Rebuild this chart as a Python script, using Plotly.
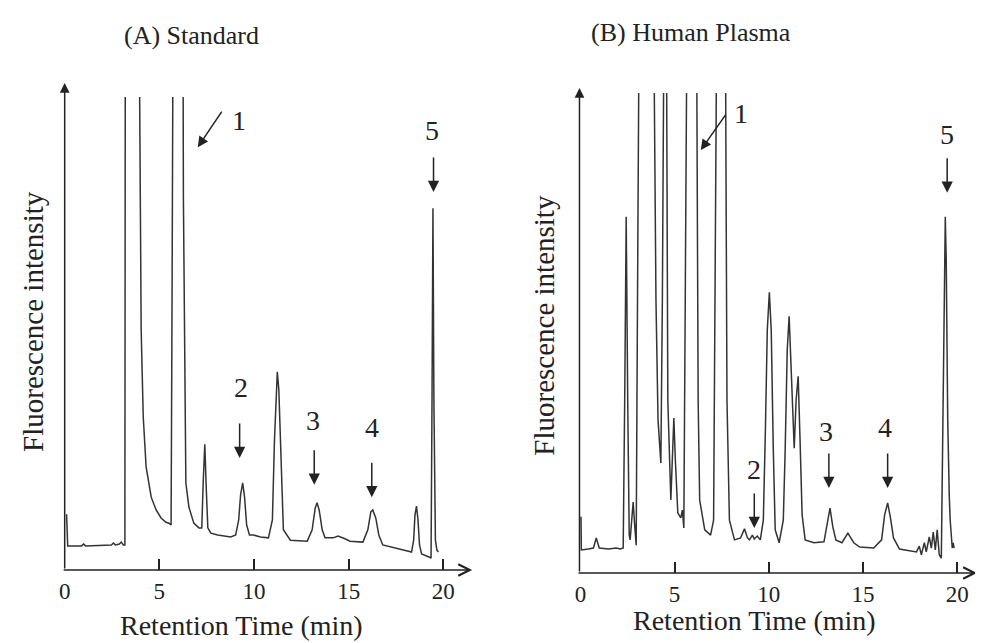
import plotly.graph_objects as go
from plotly.subplots import make_subplots

"""
HPLC chromatograms: (A) standard mixture, (B) human plasma
"""

# retention time (min) and fluorescence intensity (arbitrary units, 100 = top of frame)
std_time = [0.10, 0.16, 0.89, 1.00, 1.10, 2.47, 2.57, 2.68, 2.89, 2.99, 3.10, 3.18,
            3.20, 3.57, 3.94, 4.04, 4.15, 4.30, 4.57, 4.83, 5.09, 5.35, 5.51, 5.62,
            5.67, 5.72, 6.00, 6.25, 6.27, 6.35, 6.40, 6.56, 6.82, 7.09, 7.24, 7.32,
            7.40, 7.48, 7.56, 7.72, 8.08, 8.77, 9.03, 9.19, 9.29, 9.40, 9.50, 9.61,
            9.76, 9.97, 10.34, 10.76, 10.97, 11.08, 11.18, 11.23, 11.31, 11.44, 11.55,
            11.92, 12.81, 13.07, 13.23, 13.33, 13.44, 13.60, 13.75, 14.17, 14.44, 14.80,
            15.07, 15.75, 16.01, 16.17, 16.27, 16.43, 16.59, 16.80, 17.69, 18.32, 18.43,
            18.50, 18.58, 18.66, 18.74, 18.85, 19.27, 19.35, 19.40, 19.45, 19.50, 19.58,
            19.66, 19.74]
std_signal = [11.8, 5.1, 5.1, 5.5, 5.1, 5.3, 5.7, 5.3, 5.5, 5.9, 5.3, 5.3,
              112, 141, 112, 50.7, 32.3, 21.8, 15.4, 12.7, 11.0, 10.1, 9.9, 9.5,
              57.1, 112, 141, 112, 78.6, 31.7, 18.4, 13.3, 9.9, 8.9, 8.9, 19.0,
              26.6, 16.9, 8.9, 7.8, 7.4, 7.0, 7.4, 10.6, 15.9, 18.4, 15.4, 9.5,
              7.4, 7.4, 7.0, 6.8, 10.6, 27.5, 39.1, 41.9, 38.1, 19.0, 8.5,
              6.3, 6.1, 8.5, 13.1, 14.2, 12.7, 8.5, 6.8, 6.8, 7.2, 6.6,
              6.1, 5.9, 8.5, 12.3, 12.7, 11.0, 7.4, 5.3, 4.4, 3.8, 6.3,
              11.6, 13.5, 10.6, 5.3, 3.4, 2.7, 2.5, 35.9, 76.5, 35.9, 6.3,
              4.2, 3.8]

plasma_time = [0.03, 0.05, 0.42, 0.69, 0.84, 1.00, 1.48, 1.90, 2.11, 2.27, 2.35, 2.43,
               2.51, 2.59, 2.64, 2.72, 2.80, 2.88, 2.96, 3.03, 3.11, 3.59, 3.90, 4.01,
               4.12, 4.27, 4.35, 4.43, 4.49, 4.57, 4.64, 4.80, 4.91, 4.96, 5.04, 5.17,
               5.33, 5.41, 5.49, 5.57, 5.65, 5.91, 6.17, 6.25, 6.33, 6.60, 6.91, 7.07,
               7.15, 7.23, 7.44, 7.70, 7.78, 7.91, 8.18, 8.50, 8.71, 8.87, 8.97, 9.13,
               9.23, 9.39, 9.55, 9.71, 9.82, 9.92, 10.03, 10.13, 10.24, 10.34, 10.55, 10.77,
               10.87, 10.98, 11.08, 11.19, 11.35, 11.45, 11.56, 11.66, 11.77, 11.93, 12.40,
               12.93, 13.09, 13.25, 13.40, 13.56, 13.88, 14.20, 14.51, 14.83, 15.57, 15.99,
               16.15, 16.31, 16.46, 16.62, 16.94, 17.47, 17.84, 17.99, 18.10, 18.26, 18.36,
               18.52, 18.63, 18.73, 18.84, 18.94, 19.05, 19.16, 19.24, 19.31, 19.37, 19.42,
               19.50, 19.58, 19.63, 19.74, 19.79, 19.84]
plasma_signal = [11.7, 4.8, 5.0, 5.2, 7.3, 5.2, 5.0, 5.2, 5.0, 5.2, 36.0, 74.2,
                 36.0, 7.9, 6.9, 11.0, 14.8, 10.0, 5.8, 56.9, 111, 140, 111, 56.9,
                 31.9, 22.9, 56.9, 111, 130, 111, 36.0, 15.2, 27.7, 32.3, 23.5, 12.5,
                 11.5, 13.1, 9.4, 56.9, 111, 135, 111, 36.0, 15.2, 9.0, 7.9, 11.0,
                 56.9, 111, 135, 111, 36.0, 11.0, 6.9, 7.3, 9.2, 7.3, 6.9, 7.9,
                 7.1, 7.7, 6.9, 11.0, 29.8, 50.6, 58.5, 50.6, 25.6, 9.0, 6.3, 11.0,
                 25.6, 46.5, 53.5, 42.3, 26.0, 36.0, 41.0, 27.7, 12.1, 6.9, 6.3,
                 6.5, 10.0, 13.5, 9.6, 6.9, 6.3, 8.3, 6.3, 5.4, 5.2, 6.9,
                 12.1, 14.6, 11.5, 7.3, 5.0, 4.6, 4.4, 5.6, 3.8, 6.3, 4.4,
                 7.5, 5.2, 8.5, 4.8, 9.0, 3.8, 3.1, 36.0, 65.2, 74.2, 65.2,
                 31.9, 16.3, 11.0, 5.2, 6.3, 5.2]

tick_vals = [0, 5, 10, 15, 20]
tick_text = ["0", "5", "10", "15", "20"]

# peak labels: (label, arrow tip time, arrow tip signal, text time, text signal)
std_peaks = [("2", 9.24, 23.7, 9.29, 38.5), ("3", 13.18, 18.0, 13.12, 31.7),
             ("4", 16.22, 15.4, 16.22, 30.2), ("5", 19.48, 79.9, 19.42, 93.0)]
plasma_peaks = [("2", 9.23, 9.4, 9.23, 21.5), ("3", 13.19, 17.7, 13.03, 29.4),
                ("4", 16.31, 17.7, 16.15, 30.4), ("5", 19.47, 79.2, 19.47, 91.3)]

OFFX, OFFY = 12, 8  # where the page puts the figure
W, H = 983 - OFFX, 643 - OFFY
SERIF = "Liberation Serif"
INK = "#222222"


def px(xp, yp):
    # screen pixel -> paper coords
    return (xp - OFFX) / W, 1 - (yp - OFFY) / H


fig = make_subplots(rows=1, cols=2)
fig.add_trace(go.Scatter(x=std_time, y=std_signal, mode="lines",
                         line=dict(color="#333333", width=1.5), showlegend=False), 1, 1)
fig.add_trace(go.Scatter(x=plasma_time, y=plasma_signal, mode="lines",
                         line=dict(color="#333333", width=1.5), showlegend=False), 1, 2)

xcommon = dict(showgrid=False, zeroline=False, showline=False, ticks="inside", ticklen=11,
               tickwidth=1.5, tickcolor=INK, tickvals=tick_vals, ticktext=tick_text,
               ticklabelstandoff=5,
               tickfont=dict(family=SERIF, size=23, color=INK))
ycommon = dict(showgrid=False, zeroline=False, showline=False, showticklabels=False,
               ticks="", range=[0, 100])
fig.update_layout(
    width=W, height=H, margin=dict(l=0, r=0, t=0, b=0),
    paper_bgcolor="white", plot_bgcolor="white",
    xaxis=dict(domain=[px(63, 0)[0], px(473, 0)[0]], range=[0, 21.52], **xcommon),
    xaxis2=dict(domain=[px(581, 0)[0], 1.0], range=[-0.05, 21.16], **xcommon),
    yaxis=dict(domain=[px(0, 570)[1], px(0, 97)[1]], **ycommon),
    yaxis2=dict(domain=[px(0, 573)[1], px(0, 93)[1]], **ycommon),
)

# axes drawn as arrows
for x0, y0, x1, y_top in [(63, 570, 473, 83), (581, 573, 981, 88)]:
    tx, ty = px(x0, y_top)
    fig.add_annotation(x=tx, y=ty, xref="paper", yref="paper", ax=0, ay=(y0 - y_top),
                       text="", showarrow=True, arrowhead=2, arrowsize=1.3, arrowwidth=1.5,
                       arrowcolor=INK)
    tx, ty = px(x1, y0)
    fig.add_annotation(x=tx, y=ty, xref="paper", yref="paper", ax=-(x1 - x0), ay=0,
                       text="", showarrow=True, arrowhead=5, arrowsize=1.6, arrowwidth=1.4,
                       arrowcolor=INK)

# peak markers
for peaks, xr, yr in [(std_peaks, "x", "y"), (plasma_peaks, "x2", "y2")]:
    for lab, ax_t, ax_y, tx_t, tx_y in peaks:
        fig.add_annotation(x=ax_t, y=ax_y, xref=xr, yref=yr, ax=0, ay=-36, text="",
                           showarrow=True, arrowhead=2, arrowsize=1.5, arrowwidth=1.5,
                           arrowcolor=INK)
        fig.add_annotation(x=tx_t, y=tx_y, xref=xr, yref=yr, text=lab, showarrow=False,
                           font=dict(family=SERIF, size=28, color=INK))

# peak 1 (diagonal arrows)
fig.add_annotation(x=7.03, y=89.4, xref="x", yref="y", ax=25, ay=-37, text="",
                   showarrow=True, arrowhead=2, arrowsize=1.4, arrowwidth=1.5, arrowcolor=INK)
fig.add_annotation(x=9.19, y=95.1, xref="x", yref="y", text="1", showarrow=False,
                   font=dict(family=SERIF, size=28, color=INK))
fig.add_annotation(x=6.39, y=88.1, xref="x2", yref="y2", ax=26, ay=-37, text="",
                   showarrow=True, arrowhead=2, arrowsize=1.4, arrowwidth=1.5, arrowcolor=INK)
fig.add_annotation(x=8.50, y=95.8, xref="x2", yref="y2", text="1", showarrow=False,
                   font=dict(family=SERIF, size=28, color=INK))

# titles and axis labels
for txt, xp, yp, size, ang in [("(A) Standard", 191, 35, 26, 0),
                                ("(B) Human Plasma", 693, 32, 26, 0),
                                ("Retention Time (min)", 241, 625, 28, 0),
                                ("Retention Time (min)", 757, 620, 28, 0),
                                ("Fluorescence intensity", 31, 321, 29, -90),
                                ("Fluorescence intensity", 545, 325, 29, -90)]:
    xx, yy = px(xp, yp)
    fig.add_annotation(x=xx, y=yy, xref="paper", yref="paper", text=txt, showarrow=False,
                       textangle=ang, xanchor="center", yanchor="middle",
                       font=dict(family=SERIF, size=size, color=INK))

fig.write_html("out.html")
